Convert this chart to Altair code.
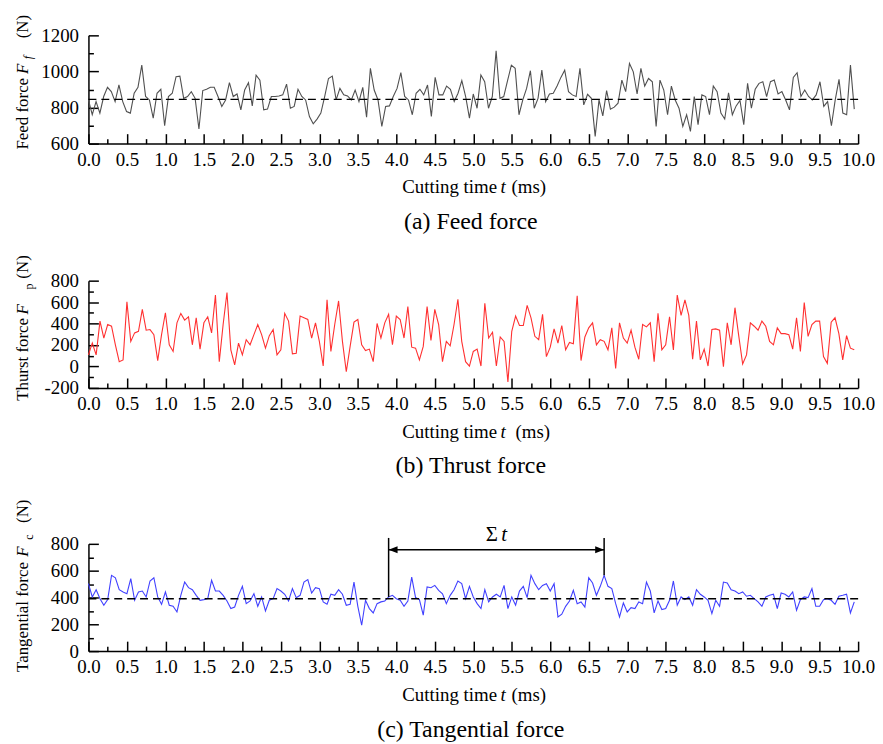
import altair as alt
import pandas as pd
import numpy as np

FONT = "Liberation Serif"

# ---- data ----
FEED = [842,760,833,769,861,912,888,833,925,833,
        778,769,879,912,1035,861,842,741,879,901,
        699,861,879,971,974,851,861,888,851,681,
        894,901,912,912,861,806,842,938,861,875,
        787,897,938,809,980,952,787,791,861,861,
        864,870,930,796,806,901,861,842,750,710,
        736,769,861,961,974,842,906,870,864,842,
        897,833,912,747,1017,897,842,695,806,809,
        861,906,993,861,842,760,879,901,870,925,
        750,967,870,870,919,901,
        833,879,949,861,741,875,796,980,943,796,
        861,1114,851,861,949,1035,1017,760,842,906,
        1004,796,851,1007,833,875,879,919,967,1007,
        888,870,861,1017,815,873,851,640,842,754,
        894,791,802,824,952,888,1044,998,875,1017,
        919,961,943,695,952,897,760,919,842,796,
        695,760,668,861,705,870,861,760,919,888,
        769,736,882,760,809,839,705,934,796,901,
        934,943,861,943,952,875,888,842,787,967,
        993,861,897,861,842,870,943,806,833,699,
        842,956,769,760,1035,791]

THRUST = [108,218,108,423,265,391,375,202,45,61,
          602,234,313,328,533,338,344,297,55,297,
          501,202,140,407,495,432,463,202,454,162,
          407,463,313,665,45,391,690,155,14,218,
          108,250,202,297,391,297,171,287,344,108,
          155,495,423,118,124,470,454,438,265,407,
          234,4,621,140,391,611,234,-49,187,413,
          438,202,149,162,45,401,265,407,486,202,
          470,438,265,558,180,171,61,187,558,243,
          533,391,45,234,
          193,391,627,234,45,4,140,162,4,589,
          265,319,4,275,234,-144,328,470,382,382,
          570,454,281,250,486,92,180,350,218,382,
          155,224,212,658,55,275,360,407,202,250,
          234,155,360,-18,407,265,218,338,180,67,
          391,369,407,45,495,155,202,463,155,665,
          476,621,476,67,423,61,162,4,344,350,
          338,-2,407,202,548,281,23,108,407,375,
          338,423,375,234,202,360,306,306,297,162,
          454,140,596,281,391,423,423,92,29,413,
          454,306,61,287,171,155]

TANGENTIAL = [503,404,458,391,342,384,565,547,458,441,
              428,540,379,441,448,404,523,547,404,349,
              441,342,334,292,416,515,473,458,416,379,
              384,391,528,448,448,416,374,317,329,416,
              483,354,374,428,334,404,300,379,391,466,
              448,424,374,466,399,416,515,533,433,473,
              466,367,349,424,416,458,424,342,349,515,
              334,193,379,317,285,354,367,374,404,416,
              391,379,334,374,552,399,384,268,478,473,
              490,453,428,354,
              416,458,523,503,391,483,404,354,317,458,
              367,404,424,404,490,317,404,342,448,483,
              399,565,503,458,490,503,448,503,255,275,
              334,374,453,354,367,329,547,508,416,483,
              565,483,466,354,255,359,292,324,317,367,
              354,515,448,285,374,310,317,379,523,342,
              404,384,404,342,458,424,404,379,280,379,
              334,515,508,458,448,428,441,409,416,391,
              367,334,404,416,424,317,433,424,404,441,
              305,384,404,399,466,334,334,384,391,379,
              349,409,416,424,285,367]

T_END = 9.95
FEED_MEAN = 845
TANG_MEAN = 390

X_MAJOR = [0.0,0.5,1.0,1.5,2.0,2.5,3.0,3.5,4.0,4.5,5.0,5.5,6.0,6.5,7.0,7.5,8.0,8.5,9.0,9.5,10.0]
X_MINOR = [0.25,0.75,1.25,1.75,2.25,2.75,3.25,3.75,4.25,4.75,5.25,5.75,6.25,6.75,7.25,7.75,8.25,8.75,9.25,9.75]

FEED_DOMAIN = [600, 1200]
FEED_MAJOR = [600, 800, 1000, 1200]
FEED_MINOR = [700, 900, 1100]
THRUST_DOMAIN = [-200, 800]
THRUST_MAJOR = [-200, 0, 200, 400, 600, 800]
THRUST_MINOR = [-100, 100, 300, 500, 700]
TANG_DOMAIN = [0, 800]
TANG_MAJOR = [0, 200, 400, 600, 800]
TANG_MINOR = [100, 300, 500, 700]

# Sigma-t annotation (data coordinates)
SPAN_T = [3.9, 6.7]
SPAN_BOTTOM = [404, 565]
SPAN_TOP = 844
ARROW_LEVEL = 756
SIGMA_X = [5.24, 5.40]
SIGMA_Y = 822

W = 775


def series_df(vals):
    n = len(vals)
    return pd.DataFrame({"t": np.linspace(0, T_END, n), "v": vals})


def xs(domain=[0, 10]):
    return alt.Scale(domain=domain, nice=False, zero=False)


def text_layer(s, x, y, size=16, angle=0, style="normal", align="left", baseline="alphabetic"):
    kw = dict(font=FONT, fontSize=size, fontStyle=style, align=align,
              baseline=baseline, color="black")
    if angle:
        kw["angle"] = angle
    return alt.Chart(pd.DataFrame({"s": [s]})).mark_text(**kw).encode(
        text="s:N", x=alt.value(x), y=alt.value(y))


def panel(vals, color, ydom, ymajor, yminor, height, ytitle, xgap_ms, caption,
          mean=None, extra=None):
    df = series_df(vals)
    ysc = alt.Scale(domain=ydom, nice=False, zero=False)

    main = alt.Chart(df).mark_line(color=color, strokeWidth=1.1).encode(
        x=alt.X("t:Q", scale=xs(), axis=alt.Axis(
            orient="bottom", values=X_MAJOR, labelExpr="format(datum.value, '.1f')",
            ticks=False, tickSize=0, grid=False, title=None, domainColor="black",
            domainWidth=1.5, labelFont=FONT, labelFontSize=19, labelColor="black",
            labelPadding=7, labelFlush=False, labelOverlap=False)),
        y=alt.Y("v:Q", scale=ysc, axis=alt.Axis(
            orient="left", values=ymajor, labelExpr="'' + datum.value",
            ticks=False, tickSize=0, grid=False, title=None, domainColor="black",
            domainWidth=1.5, labelFont=FONT, labelFontSize=19, labelColor="black",
            labelPadding=10, labelFlush=False, labelOverlap=False)),
    )

    def tick_layer(xv, yv, size):
        return alt.Chart(df).mark_line(strokeOpacity=0).encode(
            x=alt.X("t:Q", scale=xs(), axis=alt.Axis(
                orient="bottom", values=xv, labels=False, domain=False, grid=False,
                ticks=True, tickSize=size, offset=-size, tickColor="black",
                tickWidth=1.5, title=None)),
            y=alt.Y("v:Q", scale=ysc, axis=alt.Axis(
                orient="left", values=yv, labels=False, domain=False, grid=False,
                ticks=True, tickSize=size, offset=-size, tickColor="black",
                tickWidth=1.5, title=None)),
        )

    layers = [main, tick_layer(X_MAJOR, ymajor, 10), tick_layer(X_MINOR, yminor, 5)]

    if mean is not None:
        layers.append(alt.Chart(pd.DataFrame({"v": [mean]})).mark_rule(
            color="black", strokeWidth=1.4, strokeDash=[8, 5]).encode(
            y=alt.Y("v:Q", scale=ysc, axis=None)))

    if extra is not None:
        layers += extra(ysc)

    # y title pieces: (text, x, y, size, style)
    for s, x, y, size, style in ytitle:
        layers.append(text_layer(s, x, y, size=size, angle=270, style=style))

    # x title
    xb = height + 50
    layers.append(text_layer("Cutting time", 316, xb, size=19))
    layers.append(text_layer("t", 415, xb, size=19, style="italic"))
    layers.append(text_layer("(ms)", 426 + xgap_ms, xb, size=19))

    # caption
    layers.append(text_layer(caption, 385, height + 86, size=24, align="center"))

    return alt.layer(*layers).resolve_axis(x="independent", y="independent").properties(
        width=W, height=height)


def sigma_annotation(ysc):
    span = pd.DataFrame({"t": SPAN_T, "y0": SPAN_BOTTOM, "y1": [SPAN_TOP, SPAN_TOP]})
    vlines = alt.Chart(span).mark_rule(color="black", strokeWidth=1.5).encode(
        x=alt.X("t:Q", scale=xs(), axis=None),
        y=alt.Y("y0:Q", scale=ysc, axis=None), y2="y1:Q")
    arrow = alt.Chart(pd.DataFrame({"a": [SPAN_T[0]], "b": [SPAN_T[1]], "y": [ARROW_LEVEL]})
                      ).mark_rule(color="black", strokeWidth=1.5).encode(
        x=alt.X("a:Q", scale=xs(), axis=None), x2="b:Q",
        y=alt.Y("y:Q", scale=ysc, axis=None))
    head_l = alt.Chart(pd.DataFrame({"t": [SPAN_T[0]], "y": [ARROW_LEVEL]})).mark_point(
        shape="M0,0 L1,-0.4 L1,0.4 Z", filled=True, color="black", size=324,
        opacity=1).encode(
        x=alt.X("t:Q", scale=xs(), axis=None), y=alt.Y("y:Q", scale=ysc, axis=None))
    head_r = alt.Chart(pd.DataFrame({"t": [SPAN_T[1]], "y": [ARROW_LEVEL]})).mark_point(
        shape="M0,0 L-1,-0.4 L-1,0.4 Z", filled=True, color="black", size=324,
        opacity=1).encode(
        x=alt.X("t:Q", scale=xs(), axis=None), y=alt.Y("y:Q", scale=ysc, axis=None))
    sig = alt.Chart(pd.DataFrame({"t": [SIGMA_X[0]], "y": [SIGMA_Y], "s": ["Σ"]})).mark_text(
        font=FONT, fontSize=21, align="center", baseline="alphabetic", color="black").encode(
        x=alt.X("t:Q", scale=xs(), axis=None), y=alt.Y("y:Q", scale=ysc, axis=None), text="s:N")
    tt = alt.Chart(pd.DataFrame({"t": [SIGMA_X[1]], "y": [SIGMA_Y], "s": ["t"]})).mark_text(
        font=FONT, fontSize=21, fontStyle="italic", align="center", baseline="alphabetic",
        color="black").encode(
        x=alt.X("t:Q", scale=xs(), axis=None), y=alt.Y("y:Q", scale=ysc, axis=None), text="s:N")
    return [vlines, arrow, head_l, head_r, sig, tt]


pa = panel(FEED, "#505050", FEED_DOMAIN, FEED_MAJOR, FEED_MINOR, 109,
           [("Feed force", -61, 115, 17, "normal"), ("F", -61, 39, 17, "italic"),
            ("f", -57, 24, 12, "italic"), ("(N)", -61, 3, 17, "normal")],
           0, "(a) Feed force", mean=FEED_MEAN)

pb = panel(THRUST, "#ff3030", THRUST_DOMAIN, THRUST_MAJOR, THRUST_MINOR, 108,
           [("Thurst force", -61, 121, 17, "normal"), ("F", -61, 34, 17, "italic"),
            ("p", -56, 9, 12, "normal"), ("(N)", -61, -2, 17, "normal")],
           4, "(b) Thrust force")

pc = panel(TANGENTIAL, "#4040ff", TANG_DOMAIN, TANG_MAJOR, TANG_MINOR, 108,
           [("Tangential force", -61, 129, 17, "normal"), ("F", -61, 13, 17, "italic"),
            ("c", -56, -4, 12, "normal"), ("(N)", -61, -21, 17, "normal")],
           0, "(c) Tangential force", mean=TANG_MEAN, extra=sigma_annotation)

chart = alt.vconcat(pa, pb, pc, spacing=21).properties(
    padding={"left": 5, "top": 4, "right": 0, "bottom": 0},
    background="white",
).configure_view(stroke=None)

chart.save("out.html", embed_options={"renderer": "svg", "actions": False})
